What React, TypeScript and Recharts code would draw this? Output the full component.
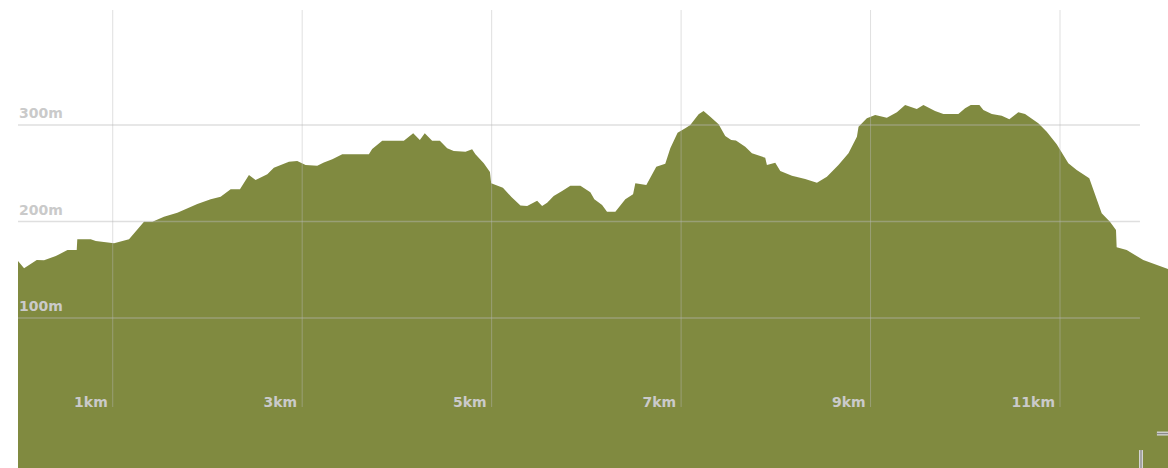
import React from "react";
import { AreaChart, Area, XAxis, YAxis, ReferenceLine } from "recharts";

const distanceKm = [
  0, 0.064, 0.198, 0.275, 0.399, 0.522, 0.62, 0.626, 0.768, 0.821, 1.014, 1.172, 1.33, 1.419, 1.541, 1.682, 1.893,
  2.034, 2.139, 2.245, 2.343, 2.438, 2.508, 2.632, 2.701, 2.86, 2.948, 3.036, 3.159, 3.229, 3.318, 3.423, 3.704,
  3.739, 3.845, 4.073, 4.172, 4.242, 4.294, 4.372, 4.453, 4.531, 4.6, 4.724, 4.794, 4.829, 4.917, 4.982, 4.995,
  5.119, 5.209, 5.304, 5.375, 5.48, 5.533, 5.586, 5.655, 5.744, 5.831, 5.937, 6.042, 6.084, 6.166, 6.218, 6.306,
  6.411, 6.493, 6.517, 6.633, 6.738, 6.833, 6.886, 6.963, 7.044, 7.097, 7.185, 7.237, 7.308, 7.396, 7.466, 7.529,
  7.579, 7.677, 7.748, 7.888, 7.906, 7.994, 8.047, 8.17, 8.31, 8.434, 8.539, 8.661, 8.767, 8.856, 8.873, 8.961,
  9.049, 9.172, 9.278, 9.365, 9.488, 9.558, 9.681, 9.769, 9.927, 9.998, 10.058, 10.149, 10.191, 10.28, 10.385,
  10.465, 10.56, 10.631, 10.771, 10.86, 10.965, 11.088, 11.176, 11.309, 11.44, 11.527, 11.591, 11.598, 11.704,
  11.879, 12.14,
];

const elevationM = [
  159, 151.5, 160.1, 160, 164.2, 170.5, 170.5, 181.6, 181.6, 179.8, 177.4, 181.6, 199.8, 199.8, 205, 209.1, 218.1,
  223, 225.7, 233.4, 233.4, 248.2, 243, 248.9, 255.8, 262, 262.7, 258.5, 257.8, 261.3, 264.5, 269.6, 269.6,
  275.1, 283.7, 283.7, 291.4, 284.5, 291.4, 283.7, 283.7, 275.9, 273.1, 272.3, 274.8, 269.6, 260.3, 251.3, 239.6,
  234.9, 225.4, 216.5, 216.1, 221.6, 216.1, 219.5, 226.4, 231.6, 237.1, 237.1, 230.3, 223, 217.1, 210.2, 210.2,
  223, 228.2, 239.6, 237.8, 256.8, 259.9, 275.9, 292, 296.6, 300, 311.1, 314.5, 308.6, 300.7, 288.6, 284.5,
  284.1, 277.5, 270.7, 266.1, 258.5, 260.9, 252.3, 247.5, 244, 240.2, 246.4, 258.5, 270.7, 287.9, 298.2, 306.9,
  310.4, 307.6, 313.2, 320.7, 316.6, 320.7, 314.5, 311.4, 311.4, 317.3, 320.7, 320.7, 315.5, 311.4, 309.6,
  305.9, 313.2, 311.4, 301.8, 293.1, 280, 260.3, 253.4, 244.8, 208.5, 199.8, 191.2, 173.3, 170.5,
  160.1, 150.8,
];

const kmTicks = [1, 3, 5, 7, 9, 11];
const kmLabels = ["1km", "3km", "5km", "7km", "9km", "11km"];
const mTicks = [100, 200, 300];
const mLabels = ["100m", "200m", "300m"];

const data = distanceKm.map((km, i) => ({ km, ele: elevationM[i] }));

const X_DOMAIN: [number, number] = [0, 12.14];
const Y_DOMAIN: [number, number] = [-55.4, 419.2];
const GRID_STROKE = "rgba(185,185,185,0.45)";
const TEXT_FILL = "#cacaca";
const FONT = "'DejaVu Sans', sans-serif";

const kmLabel = (text: string) => (props: any) => {
  const vb = props.viewBox || {};
  const x = vb.x ?? 0;
  const bottom = (vb.y ?? 0) + (vb.height ?? 0);
  return (
    <text x={x - 5} y={bottom} textAnchor="end" fill={TEXT_FILL} fontSize={14} fontWeight="bold" fontFamily={FONT}>
      {text}
    </text>
  );
};

const mLabel = (text: string) => (props: any) => {
  const vb = props.viewBox || {};
  const x = vb.x ?? 0;
  const y = vb.y ?? 0;
  return (
    <text x={x + 1} y={y - 7} textAnchor="start" fill={TEXT_FILL} fontSize={14} fontWeight="bold" fontFamily={FONT}>
      {text}
    </text>
  );
};

export default function App() {
  return (
    <div style={{ position: "absolute", left: 0, top: 0, width: 1168, height: 468, overflow: "hidden" }}>
      <AreaChart width={1168} height={468} data={data} margin={{ top: 10, right: 0, bottom: 0, left: 18 }}>
        <XAxis dataKey="km" type="number" domain={X_DOMAIN} allowDataOverflow hide />
        <YAxis type="number" domain={Y_DOMAIN} allowDataOverflow hide />
        <Area
          dataKey="ele"
          type="linear"
          stroke="none"
          fill="#808a40"
          fillOpacity={1}
          baseValue="dataMin"
          isAnimationActive={false}
          dot={false}
          activeDot={false}
        />
        {mTicks.map((v, i) => (
          <ReferenceLine
            key={"h" + v}
            segment={[{ x: 0, y: v }, { x: 11.844, y: v }]}
            stroke={GRID_STROKE}
            strokeWidth={1.5}
            label={mLabel(mLabels[i])}
          />
        ))}
        {kmTicks.map((v, i) => (
          <ReferenceLine
            key={"v" + v}
            segment={[{ x: v, y: 7.8 }, { x: v, y: 419.2 }]}
            stroke={GRID_STROKE}
            strokeWidth={1}
            label={kmLabel(kmLabels[i])}
          />
        ))}
        <ReferenceLine segment={[{ x: 12.023, y: -19.7 }, { x: 12.14, y: -19.7 }]} stroke="#d4d4d4" strokeWidth={4} ifOverflow="visible" />
        <ReferenceLine segment={[{ x: 12.023, y: -19.7 }, { x: 12.14, y: -19.7 }]} stroke="#8a8a8a" strokeWidth={1.3} ifOverflow="visible" />
        <ReferenceLine segment={[{ x: 11.855, y: -36.8 }, { x: 11.855, y: -55.4 }]} stroke="#d4d4d4" strokeWidth={4} ifOverflow="visible" />
        <ReferenceLine segment={[{ x: 11.855, y: -36.8 }, { x: 11.855, y: -55.4 }]} stroke="#8a8a8a" strokeWidth={1.3} ifOverflow="visible" />
      </AreaChart>
    </div>
  );
}
